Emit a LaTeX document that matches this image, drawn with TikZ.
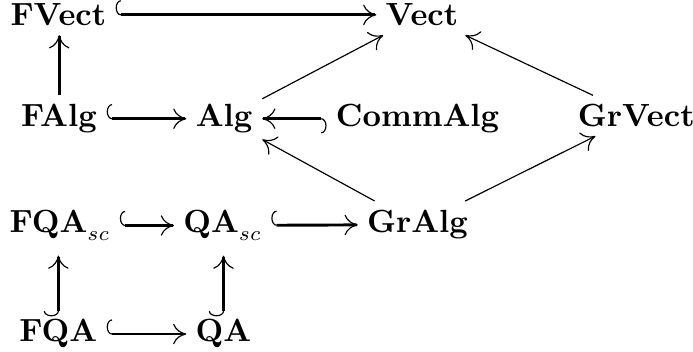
\documentclass[tikz,border=0pt]{standalone}
\usepackage{amsmath,amssymb}
\usetikzlibrary{arrows.meta}

\begin{document}
\begin{tikzpicture}[
  obj/.style={anchor=base, inner sep=3pt, font=\fontsize{10.6pt}{12pt}\selectfont},
  inc/.style={line width=1pt, {Hooks[right,length=1.8pt,width=10pt,line width=0.4pt]}-{To[line width=0.4pt,length=4.5pt,width=7pt]}},
  map/.style={line width=0.4pt, -{To[length=4.5pt,width=7pt]}}
]
  \useasboundingbox (0,0) rectangle (8.31,4.22);
  % objects
  \node[obj] (fvect) at (0.70,3.91) {$\mathbf{FVect}$};
  \node[obj] (vect) at (5.06,3.91) {$\mathbf{Vect}$};
  \node[obj] (falg) at (0.71,2.70) {$\mathbf{FAlg}$};
  \node[obj] (alg) at (2.69,2.70) {$\mathbf{Alg}$};
  \node[obj] (commalg) at (5.01,2.70) {$\mathbf{CommAlg}$};
  \node[obj] (grvect) at (7.63,2.70) {$\mathbf{GrVect}$};
  \node[obj] (fqasc) at (0.72,1.43) {$\mathbf{FQA}_{sc}$};
  \node[obj] (qasc) at (2.67,1.43) {$\mathbf{QA}_{sc}$};
  \node[obj] (gralg) at (5.01,1.43) {$\mathbf{GrAlg}$};
  \node[obj] (fqa) at (0.70,0.12) {$\mathbf{FQA}$};
  \node[obj] (qa) at (2.68,0.12) {$\mathbf{QA}$};
  % inclusions
  \draw[inc] (fvect) -- (vect);
  \draw[inc] (falg) -- (alg);
  \draw[inc] (commalg) -- (alg);
  \draw[inc] (fqasc) -- (qasc);
  \draw[inc] (qasc) -- (gralg);
  \draw[inc] (fqa) -- (qa);
  \draw[inc, shorten <=-2pt, shorten >=2pt] (fqa.north) -- (fqa.north |- fqasc.south);
  \draw[inc, shorten <=-2pt, shorten >=2pt] (qa.north) -- (qa.north |- qasc.south);
  \draw[line width=1pt, -{To[line width=0.4pt,length=4.5pt,width=7pt]}] (falg.north) -- (falg.north |- fvect.south);
  % other maps
  \draw[map] (alg) -- (vect);
  \draw[map] (grvect) -- (vect);
  \draw[map] (gralg) -- (alg);
  \draw[map] (gralg) -- (grvect);
\end{tikzpicture}
\end{document}
